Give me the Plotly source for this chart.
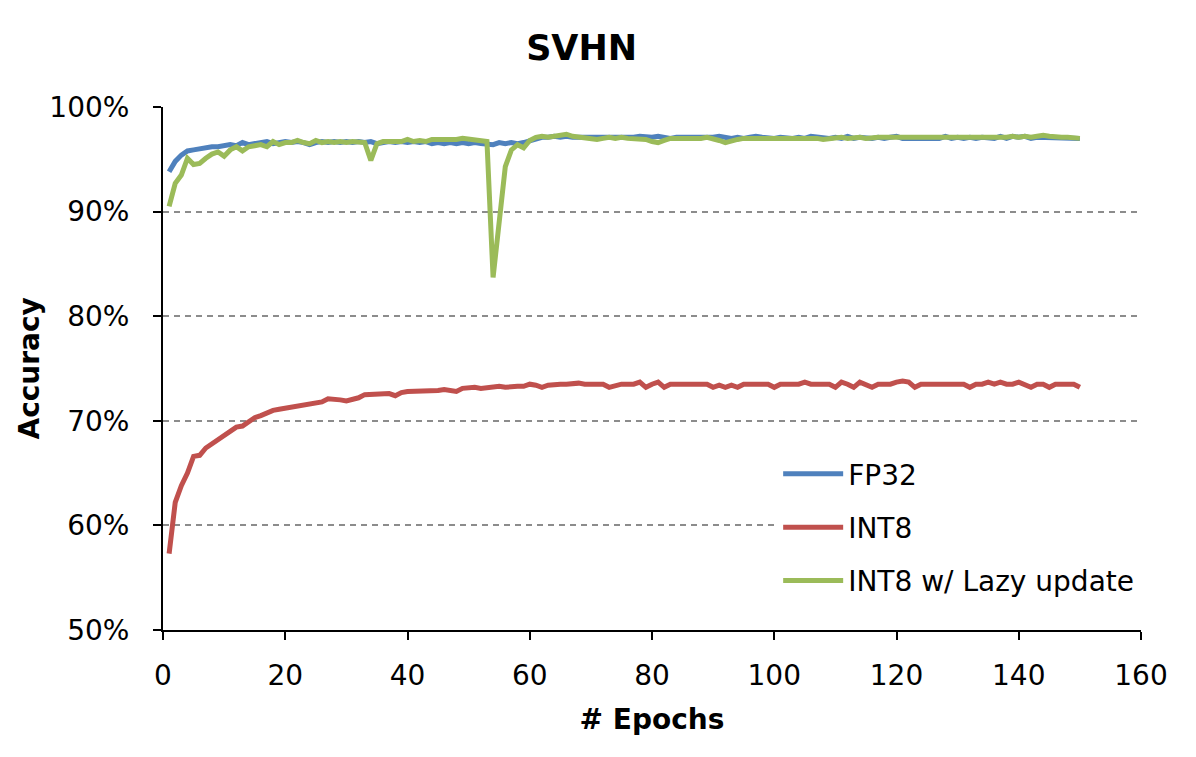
import plotly.graph_objects as go

# accuracy (%) per epoch
epochs = list(range(1, 151))

fp32 = [
    93.8, 94.8, 95.4, 95.8, 95.9, 96.0, 96.2, 96.2, 96.2, 96.3,
    96.4, 96.3, 96.6, 96.4, 96.5, 96.6, 96.7, 96.5, 96.6, 96.7,
    96.6, 96.7, 96.6, 96.4, 96.6, 96.7, 96.6, 96.7, 96.6, 96.7,
    96.6, 96.7, 96.6, 96.7, 96.5, 96.6, 96.7, 96.6, 96.7, 96.6,
    96.7, 96.6, 96.7, 96.5, 96.6, 96.5, 96.6, 96.5, 96.6, 96.5,
    96.6, 96.5, 96.5, 96.4, 96.6, 96.5, 96.6, 96.5, 96.6, 96.8,
    97.0, 97.1, 97.1, 97.2, 97.1, 97.2, 97.1, 97.1, 97.0, 97.1,
    97.1, 97.0, 97.1, 97.1, 97.0, 97.1, 97.1, 97.2, 97.1, 97.1,
    97.2, 97.1, 97.0, 97.1, 97.1, 97.0, 97.1, 97.1, 97.0, 97.1,
    97.2, 97.1, 97.0, 97.1, 97.0, 97.1, 97.2, 97.1, 97.0, 97.0,
    97.1, 97.0, 97.0, 97.1, 97.0, 97.2, 97.1, 97.0, 97.0, 97.1,
    97.0, 97.2, 97.0, 97.1, 97.0, 97.0, 97.1, 97.0, 97.1, 97.2,
    97.0, 97.0, 97.1, 97.0, 97.0, 97.1, 97.0, 97.2, 97.0, 97.1,
    97.0, 97.1, 97.0, 97.1, 97.1, 97.0, 97.2, 97.0, 97.2, 97.1,
    97.2, 97.0, 97.1, 97.1, 97.0, 97.1, 97.0, 97.1, 97.0, 97.0,
]

int8 = [
    57.3, 62.2, 63.8, 65.0, 66.6, 66.7, 67.4, 67.8, 68.2, 68.6,
    69.0, 69.4, 69.5, 69.9, 70.3, 70.5, 70.8, 71.0, 71.1, 71.2,
    71.4, 71.5, 71.6, 71.6, 71.7, 71.8, 72.1, 72.1, 72.0, 71.9,
    72.0, 72.2, 72.5, 72.5, 72.5, 72.5, 72.6, 72.4, 72.7, 72.8,
    72.8, 72.8, 72.8, 72.8, 72.9, 73.0, 72.9, 72.8, 73.1, 73.2,
    73.2, 73.1, 73.2, 73.3, 73.3, 73.2, 73.3, 73.3, 73.3, 73.5,
    73.4, 73.2, 73.4, 73.5, 73.5, 73.5, 73.6, 73.6, 73.5, 73.5,
    73.5, 73.5, 73.2, 73.4, 73.5, 73.5, 73.5, 73.7, 73.2, 73.5,
    73.7, 73.2, 73.5, 73.5, 73.5, 73.5, 73.5, 73.5, 73.5, 73.2,
    73.4, 73.2, 73.4, 73.2, 73.5, 73.5, 73.5, 73.5, 73.5, 73.2,
    73.5, 73.5, 73.5, 73.5, 73.7, 73.5, 73.5, 73.5, 73.5, 73.2,
    73.7, 73.5, 73.2, 73.7, 73.5, 73.2, 73.5, 73.5, 73.5, 73.7,
    73.8, 73.7, 73.2, 73.5, 73.5, 73.5, 73.5, 73.5, 73.5, 73.5,
    73.5, 73.2, 73.5, 73.5, 73.7, 73.5, 73.7, 73.5, 73.5, 73.7,
    73.5, 73.2, 73.5, 73.5, 73.2, 73.5, 73.5, 73.5, 73.5, 73.2,
]

int8_lazy = [
    90.5, 92.7, 93.5, 95.1, 94.5, 94.6, 95.1, 95.5, 95.7, 95.3,
    95.9, 96.2, 95.8, 96.2, 96.3, 96.4, 96.2, 96.7, 96.4, 96.6,
    96.6, 96.8, 96.6, 96.5, 96.8, 96.6, 96.7, 96.6, 96.7, 96.6,
    96.7, 96.7, 96.6, 94.9, 96.5, 96.7, 96.7, 96.8, 96.7, 96.9,
    96.7, 96.8, 96.7, 96.9, 96.9, 96.8, 96.9, 96.9, 97.0, 96.9,
    96.9, 96.8, 96.7, 83.7, 88.9, 94.3, 95.9, 96.4, 96.1, 96.8,
    97.1, 97.2, 97.1, 97.2, 97.3, 97.4, 97.2, 97.1, 97.1, 97.0,
    96.9, 97.0, 97.1, 97.0, 97.1, 97.0, 97.0, 97.0, 96.9, 96.7,
    96.6, 96.8, 97.0, 97.0, 97.0, 97.0, 96.9, 97.0, 97.1, 97.0,
    96.8, 96.6, 96.8, 96.9, 97.0, 97.0, 97.1, 97.0, 97.0, 97.0,
    97.0, 97.0, 97.0, 97.0, 97.0, 97.0, 97.0, 96.9, 97.0, 97.1,
    97.1, 97.0, 97.1, 97.1, 97.0, 97.1, 97.1, 97.1, 97.1, 97.0,
    97.1, 97.1, 97.1, 97.1, 97.1, 97.0, 97.0, 97.1, 97.1, 97.1,
    97.1, 97.1, 97.1, 97.1, 97.1, 97.1, 97.1, 97.1, 97.2, 97.1,
    97.2, 97.1, 97.2, 97.3, 97.2, 97.1, 97.1, 97.1, 97.1, 97.0,
]

series = [
    ("FP32", fp32, "#4F81BD"),
    ("INT8", int8, "#C0504D"),
    ("INT8 w/ Lazy update", int8_lazy, "#9BBB59"),
]

x_ticks = [0, 20, 40, 60, 80, 100, 120, 140, 160]
y_ticks = [50, 60, 70, 80, 90, 100]
y_tick_labels = ["50%", "60%", "70%", "80%", "90%", "100%"]

font = "DejaVu Sans"

fig = go.Figure()
for name, values, color in series:
    fig.add_trace(go.Scatter(
        x=epochs,
        y=values,
        mode="lines",
        name=name,
        legendgroup=name,
        line=dict(color=color, width=5),
    ))

# the page adds ~8px of body margin, so margins are trimmed to compensate
fig.update_layout(
    width=1196,
    height=757,
    margin=dict(l=155, r=63, t=99, b=135),
    paper_bgcolor="white",
    plot_bgcolor="white",
    font=dict(family=font, size=28, color="black"),
    title=dict(
        text="<b>SVHN</b>",
        x=0.428, xref="paper", xanchor="center",
        y=0.947, yref="container", yanchor="middle",
        font=dict(family=font, size=35, color="black"),
    ),
    showlegend=True,
    legend=dict(
        x=0.629, y=0.346, xanchor="left", yanchor="top",
        bgcolor="white",
        font=dict(family=font, size=28, color="black"),
        itemwidth=60,
        tracegroupgap=14,
    ),
    annotations=[dict(
        text="<b>Accuracy</b>",
        x=-0.136, xref="paper", xanchor="center",
        y=0.5, yref="paper", yanchor="middle",
        textangle=-90, showarrow=False,
        font=dict(family=font, size=28, color="black"),
    )],
)

fig.update_xaxes(
    range=[0, 160],
    tickvals=x_ticks,
    showgrid=False,
    zeroline=False,
    automargin=False,
    showline=True, linecolor="black", linewidth=2,
    ticks="outside", ticklen=8, tickwidth=2, tickcolor="black",
    ticklabelstandoff=11,
    title=dict(text="<b># Epochs</b>", standoff=19,
               font=dict(family=font, size=28)),
)

fig.update_yaxes(
    range=[50, 100],
    tickvals=y_ticks,
    ticktext=y_tick_labels,
    showgrid=True, gridcolor="#8c8c8c", gridwidth=1.5, griddash="6px,5px",
    zeroline=False,
    automargin=False,
    showline=True, linecolor="black", linewidth=2,
    ticks="outside", ticklen=8, tickwidth=2, tickcolor="black",
    ticklabelstandoff=18,
)

fig.write_html("out.html")
